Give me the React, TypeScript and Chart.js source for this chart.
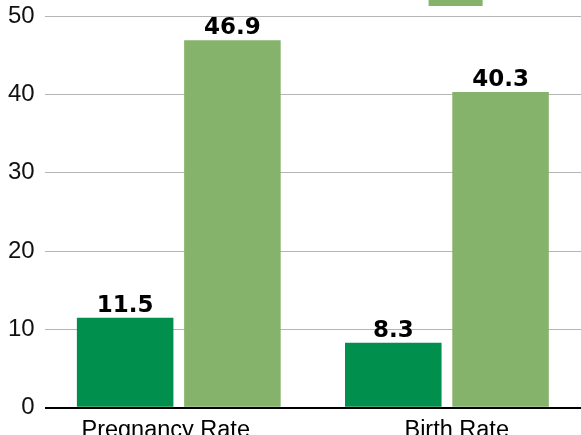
import React, { useEffect, useRef } from "react";
import { Chart, registerables } from "chart.js";

Chart.register(...registerables);

const categories = ["Pregnancy Rate", "Birth Rate"];
const seriesNames = ["Ages 15–17", "Ages 18–19"];
const seriesA = [11.5, 8.3];
const seriesB = [46.9, 40.3];
const yTicks = [0, 10, 20, 30, 40, 50];

const colorA = "#008f4c";
const colorB = "#85b36b";

const OFFSET_TOP = -64;
const CANVAS_H = 518;

const valueLabels = {
  id: "valueLabels",
  afterDatasetsDraw(chart: any) {
    const ctx = chart.ctx;
    ctx.save();
    ctx.font = "bold 23px 'DejaVu Sans'";
    ctx.fillStyle = "#000";
    ctx.textAlign = "center";
    ctx.textBaseline = "alphabetic";
    chart.data.datasets.forEach((ds: any, i: number) => {
      const meta = chart.getDatasetMeta(i);
      meta.data.forEach((bar: any, j: number) => {
        ctx.fillText(Number(ds.data[j]).toFixed(1), bar.x, bar.y - 6);
      });
    });
    ctx.restore();
  },
};

export default function App() {
  const ref = useRef<HTMLCanvasElement | null>(null);

  useEffect(() => {
    if (!ref.current) return;
    const chart = new Chart(ref.current, {
      type: "bar",
      data: {
        labels: categories,
        datasets: [
          { label: seriesNames[0], data: seriesA, backgroundColor: colorA, borderWidth: 0 },
          { label: seriesNames[1], data: seriesB, backgroundColor: colorB, borderWidth: 0 },
        ],
      },
      options: {
        animation: false,
        responsive: false,
        layout: { padding: { left: -2, right: 0, top: 0, bottom: 0 } },
        plugins: {
          tooltip: { enabled: false },
          legend: {
            display: true,
            position: "top",
            align: "end",
            labels: {
              boxWidth: 54,
              boxHeight: 30,
              padding: 40,
              color: "#000",
              font: { size: 10, family: "'Liberation Sans'" },
              filter: (item: any) => item.datasetIndex === 1,
            },
          },
        },
        scales: {
          x: {
            grid: { display: false, drawTicks: false },
            border: { display: false },
            ticks: {
              color: "#000",
              padding: 9,
              font: { size: 23.5, family: "'Liberation Sans'" },
              callback: (_v: any, i: number) =>
                i === 0 ? categories[i] + "    " : "   " + categories[i],
            },
          },
          y: {
            min: 0,
            max: 50,
            afterBuildTicks: (axis: any) => {
              axis.ticks = yTicks.map((v) => ({ value: v }));
            },
            border: { display: false },
            grid: {
              drawTicks: false,
              color: (c: any) => (c.tick && c.tick.value === 0 ? "#000" : "#b5b5b5"),
              lineWidth: (c: any) => (c.tick && c.tick.value === 0 ? 2 : 1),
            },
            ticks: {
              color: "#111",
              padding: 10,
              font: { size: 24, family: "'Liberation Sans'" },
            },
          },
        },
      },
      plugins: [valueLabels],
    });
    return () => chart.destroy();
  }, []);

  return (
    <div
      style={{
        position: "fixed",
        left: 0,
        top: 0,
        width: 581,
        height: 435,
        overflow: "hidden",
        background: "#fff",
      }}
    >
      <canvas
        ref={ref}
        width={581}
        height={CANVAS_H}
        style={{ position: "absolute", left: 0, top: OFFSET_TOP, width: 581, height: CANVAS_H }}
      />
    </div>
  );
}
